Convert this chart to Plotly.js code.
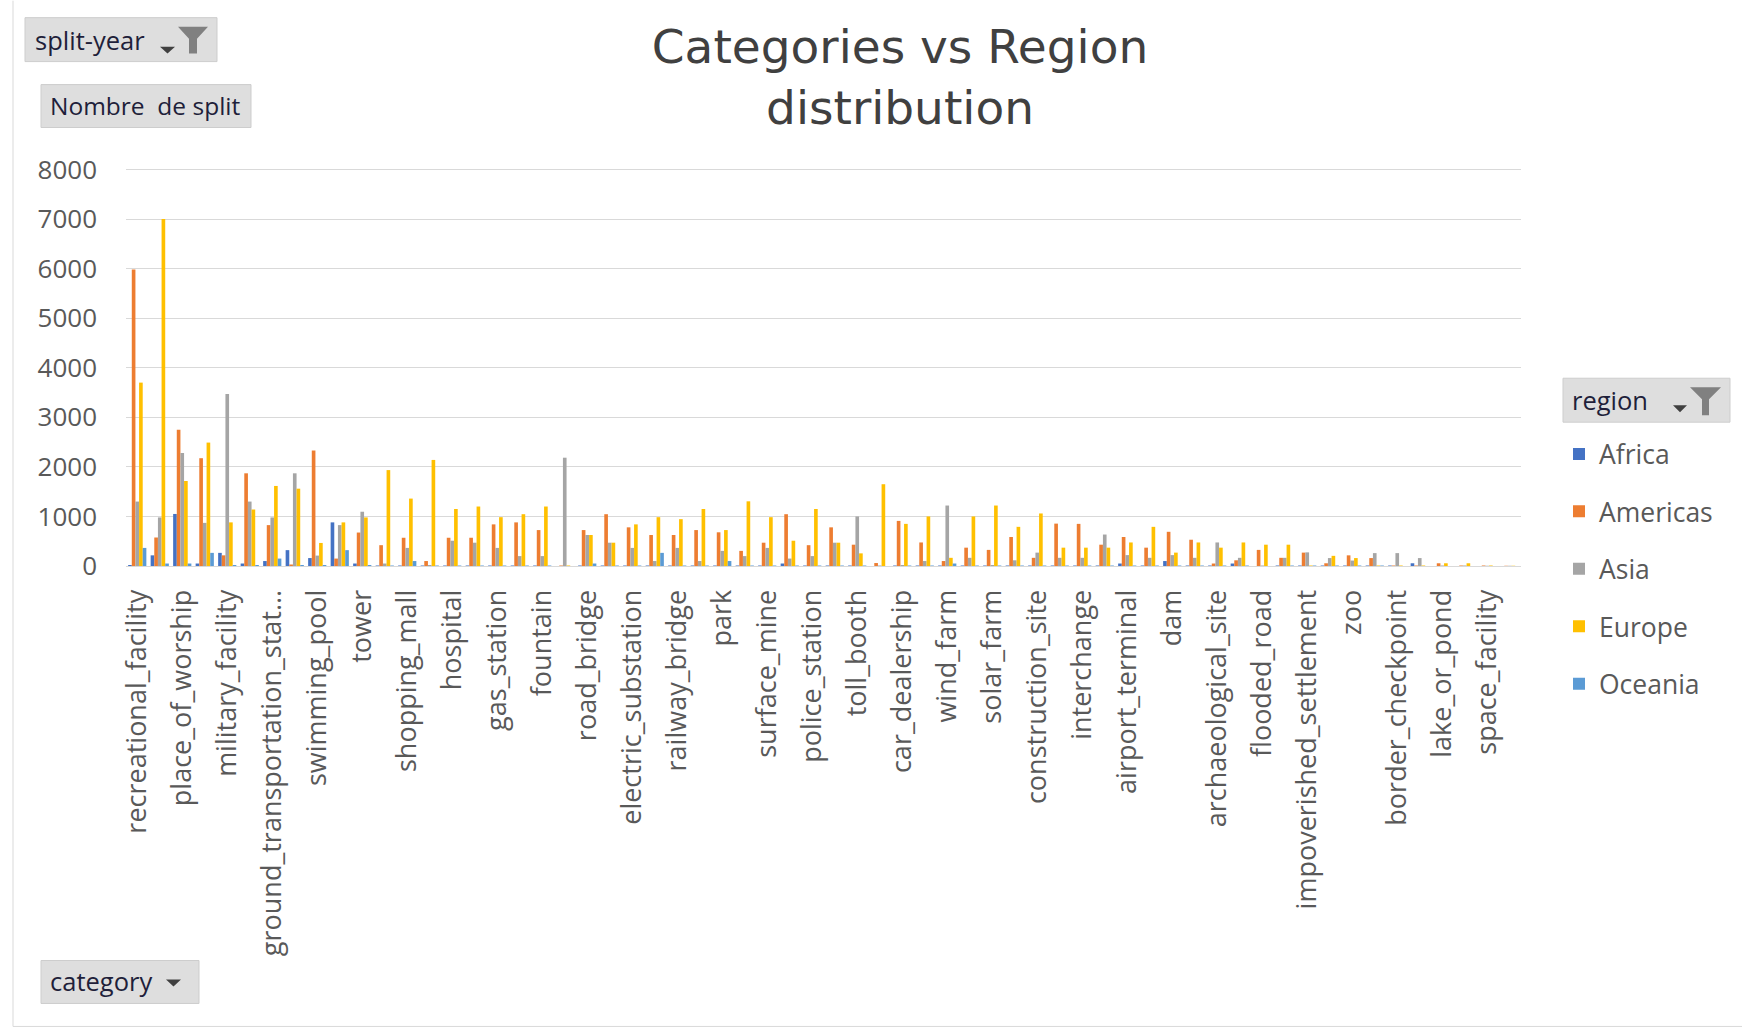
<!DOCTYPE html>
<html>
<head>
<meta charset="utf-8">
<script src="https://cdn.plot.ly/plotly-3.0.1.min.js"></script>
<style>
html,body{margin:0;padding:0;background:#fff;}
#chart{width:1742px;height:1028px;}
</style>
</head>
<body>
<div id="chart"></div>
<script>
// ---- data ----
const categories = [
  "recreational_facility","single-unit_residential","place_of_worship","crop_field",
  "military_facility","multi-unit_residential","ground_transportation_station","educational_institution",
  "swimming_pool","storage_tank","tower","parking_lot_or_garage",
  "shopping_mall","barn","hospital","office_building",
  "gas_station","factory_or_powerplant","fountain","debris_or_rubble",
  "road_bridge","golf_course","electric_substation","port",
  "railway_bridge","fire_station","park","amusement_park",
  "surface_mine","stadium","police_station","waste_disposal",
  "toll_booth","race_track","car_dealership","water_treatment_facility",
  "wind_farm","oil_or_gas_facility","solar_farm","airport",
  "construction_site","burial_site","interchange","smokestack",
  "airport_terminal","airport_hangar","dam","prison",
  "archaeological_site","lighthouse","flooded_road","tunnel_opening",
  "impoverished_settlement","helipad","zoo","shipyard",
  "border_checkpoint","aquaculture","lake_or_pond","runway",
  "space_facility","nuclear_powerplant"
];
const regions = ["Africa","Americas","Asia","Europe","Oceania"];
const africa = [20,215,1050,50,265,50,100,320,160,880,50,10,10,10,10,10,10,10,10,0,10,10,10,10,10,10,10,10,10,50,10,10,10,0,10,10,10,10,10,10,10,10,10,10,50,10,100,10,10,50,0,10,10,10,10,10,10,55,0,0,0,0];
const americas = [5980,575,2750,2175,215,1870,825,30,2330,150,675,420,570,100,570,570,840,880,725,10,725,1045,780,625,625,725,680,305,470,1045,420,780,430,60,910,475,100,370,325,585,165,855,850,430,585,370,690,530,50,115,325,165,270,55,215,160,10,10,55,10,10,5];
const asia = [1300,980,2280,870,3470,1300,980,1870,210,825,1095,50,365,20,510,470,365,200,200,2185,625,470,365,100,365,100,305,200,365,150,200,470,1000,10,20,100,1220,165,20,115,270,165,165,635,220,165,220,165,475,165,10,165,275,160,110,260,260,160,10,10,5,5];
const europe = [3700,7000,1715,2490,880,1140,1615,1560,465,880,980,1935,1360,2140,1150,1200,985,1045,1200,10,625,470,840,985,945,1150,725,1305,985,510,1150,470,255,1650,850,1000,165,1000,1220,790,1060,370,370,370,475,790,270,475,370,475,430,430,10,205,160,10,10,10,55,55,10,5];
const oceania = [365,50,50,265,20,20,150,20,20,320,20,10,100,10,10,10,10,10,10,0,50,10,10,265,10,10,100,10,10,10,10,10,10,0,10,10,50,10,10,10,10,10,10,10,10,10,10,10,10,10,0,10,10,10,10,10,0,0,0,0,0,0];
const series = [africa, americas, asia, europe, oceania];
const colors = ["#4472C4","#ED7D31","#A5A5A5","#FFC000","#5B9BD5"];
const yMax = 8050;

// Excel shows every second category label, truncating long ones
const shownCats = categories.filter((c,i)=> i%2===0);
const shownText = shownCats.map(c => c.length > 27 ? c.slice(0,26)+"..." : c);

// ---- geometry helpers for the pivot buttons (decorations) ----
const L=126, R=1521, B=566;
const T = B - (B-169)*yMax/8000;   // so that the 8000 gridline sits at y=169 px
const px = x => (x-L)/(R-L);
const py = y => (B-y)/(B-T);
function rect(x0,y0,x1,y1){
  return {type:'rect',xref:'paper',yref:'paper',x0:px(x0),x1:px(x1),y0:py(y1),y1:py(y0),
          fillcolor:'#DEDEDE',line:{color:'#CDCDCD',width:1},layer:'above'};
}
function poly(pts,fill){
  return {type:'path',xref:'paper',yref:'paper',
          path:'M'+pts.map(p=>px(p[0]).toFixed(5)+','+py(p[1]).toFixed(5)).join('L')+'Z',
          fillcolor:fill,line:{width:0},layer:'above'};
}
function label(text,x,y,size){
  return {text:text,xref:'paper',yref:'paper',x:px(x),y:py(y),xanchor:'left',yanchor:'middle',
          showarrow:false,font:{family:'Open Sans, sans-serif',size:size,color:'#1F1F3A'}};
}

const traces = regions.map((r,k)=>({
  type:'bar', name:r, x:categories, y:series[k],
  marker:{color:colors[k]}, legendgroup:r, hoverinfo:'x+y+name'
}));

const shapes = [
  // chart area border (left and bottom)
  {type:'line',xref:'paper',yref:'paper',x0:px(13),x1:px(13),y0:py(0),y1:py(1027),line:{color:'#D9D9D9',width:1}},
  {type:'line',xref:'paper',yref:'paper',x0:px(13),x1:px(1742),y0:py(1027),y1:py(1027),line:{color:'#D9D9D9',width:1}},
  rect(25,17,217,61),
  poly([[160,46],[175,46],[167.5,53]],'#404040'),
  poly([[178,26],[208,26],[197,38],[197,53],[189,53],[189,38]],'#808080'),
  rect(41,84,251,127),
  rect(41,961,199,1004),
  poly([[166,980],[181,980],[173.5,987]],'#404040'),
  rect(1563,378,1730,422),
  poly([[1673,405],[1687,405],[1680,412]],'#404040'),
  poly([[1690,387],[1721,387],[1709,399],[1709,415],[1702,415],[1702,399]],'#808080')
];

const annotations = [
  label('split-year',33,39,25.5),
  label('Nombre\u00a0 de split',48,105,24.5),
  label('category',48,982,25.5),
  label('region',1570,400,25.5)
];

const layout = {
  width:1742, height:1028,
  margin:{l:L, r:1742-R, t:T, b:1028-B, autoexpand:false},
  paper_bgcolor:'#ffffff', plot_bgcolor:'#ffffff',
  font:{family:'Open Sans, sans-serif', color:'#595959'},
  title:{text:'Categories vs Region<br>distribution', x:900/1742, xanchor:'center',
         xref:'container', yref:'container', y:1-63/1028, yanchor:'top',
         font:{family:'DejaVu Sans, sans-serif', size:47, color:'#404040'}},
  barmode:'group', bargap:0.19, bargroupgap:0,
  xaxis:{type:'category', tickmode:'array', tickvals:shownCats, ticktext:shownText,
         tickangle:-90, tickfont:{size:27,color:'#595959'}, ticks:'', ticklabelstandoff:12,
         showgrid:false, showline:true, linecolor:'#D9D9D9', linewidth:1, automargin:false,
         range:[-0.5, categories.length-0.5]},
  yaxis:{range:[0,yMax], dtick:1000, tick0:0, tickfont:{size:26,color:'#595959'},
         showgrid:true, gridcolor:'#D9D9D9', gridwidth:1, zeroline:false, showline:false,
         ticks:'', ticklabelstandoff:28, automargin:false},
  showlegend:true,
  legend:{x:px(1559), xanchor:'left', y:py(430), yanchor:'top', orientation:'v',
          font:{family:'Open Sans, sans-serif', size:26.5, color:'#595959'},
          tracegroupgap:20, bgcolor:'rgba(0,0,0,0)', itemclick:false},
  shapes:shapes, annotations:annotations
};

Plotly.newPlot('chart', traces, layout, {displayModeBar:false, staticPlot:true});
</script>
</body>
</html>
